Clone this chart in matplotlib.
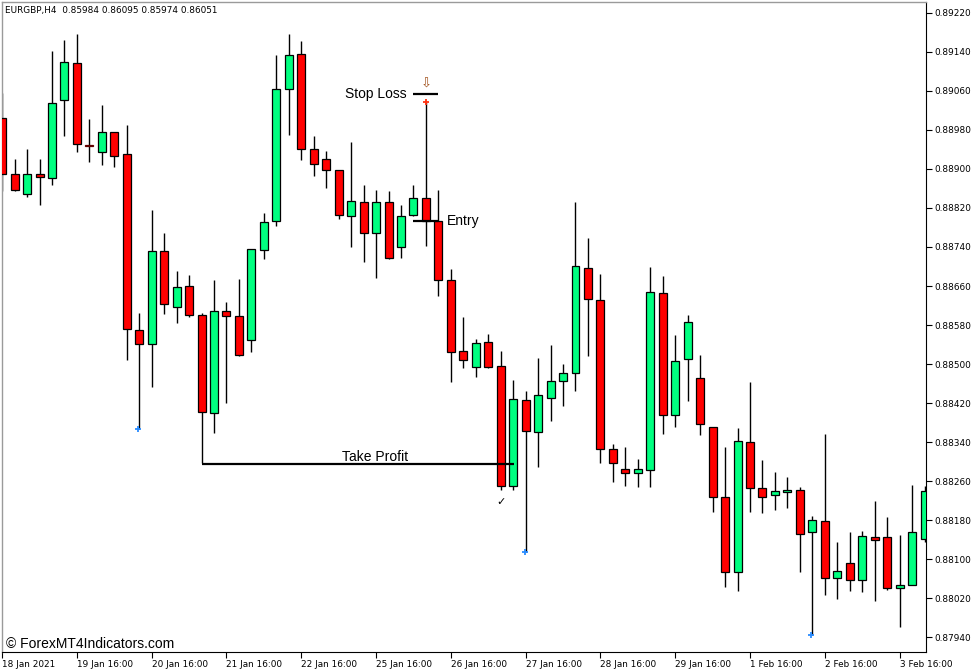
import matplotlib
matplotlib.use("Agg")
import matplotlib.pyplot as plt
import numpy as np

# ---- data (EURGBP H4) ----
opens = [0.89004, 0.88890, 0.88848, 0.88889, 0.88882, 0.89041, 0.89118, 0.88949, 0.88935, 0.88975,
         0.88930, 0.88569, 0.88541, 0.88732, 0.88618, 0.88659, 0.88600, 0.88400, 0.88609, 0.88598,
         0.88549, 0.88734, 0.88793, 0.89063, 0.89135, 0.88940, 0.88920, 0.88897, 0.88804, 0.88832,
         0.88768, 0.88832, 0.88739, 0.88805, 0.88840, 0.88793, 0.88672, 0.88526, 0.88494, 0.88545,
         0.88496, 0.88251, 0.88426, 0.88360, 0.88430, 0.88465, 0.88481, 0.88696, 0.88631, 0.88327,
         0.88286, 0.88277, 0.88282, 0.88645, 0.88395, 0.88510, 0.88472, 0.88372, 0.88227, 0.88073,
         0.88340, 0.88246, 0.88231, 0.88237, 0.88242, 0.88156, 0.88178, 0.88061, 0.88092, 0.88057,
         0.88145, 0.88145, 0.88041, 0.88047, 0.88142]
highs = [0.89055, 0.88920, 0.88940, 0.88920, 0.89142, 0.89164, 0.89176, 0.89002, 0.89031, 0.88975,
         0.88989, 0.88604, 0.88816, 0.88768, 0.88691, 0.88682, 0.88604, 0.88672, 0.88627, 0.88674,
         0.88736, 0.88809, 0.89133, 0.89176, 0.89162, 0.88967, 0.88937, 0.88897, 0.88956, 0.88868,
         0.88857, 0.88855, 0.88825, 0.88868, 0.89038, 0.88857, 0.88694, 0.88597, 0.88551, 0.88562,
         0.88526, 0.88467, 0.88445, 0.88512, 0.88540, 0.88500, 0.88832, 0.88758, 0.88685, 0.88336,
         0.88330, 0.88305, 0.88698, 0.88681, 0.88560, 0.88601, 0.88519, 0.88372, 0.88330, 0.88369,
         0.88463, 0.88303, 0.88278, 0.88269, 0.88248, 0.88189, 0.88357, 0.88135, 0.88155, 0.88157,
         0.88219, 0.88186, 0.88150, 0.88252, 0.88250]
lows = [0.88855, 0.88855, 0.88843, 0.88827, 0.88868, 0.88968, 0.88934, 0.88915, 0.88907, 0.88904,
        0.88508, 0.88368, 0.88454, 0.88602, 0.88584, 0.88596, 0.88297, 0.88359, 0.88421, 0.88517,
        0.88524, 0.88715, 0.88783, 0.88969, 0.88918, 0.88886, 0.88861, 0.88797, 0.88739, 0.88710,
        0.88676, 0.88716, 0.88718, 0.88803, 0.88741, 0.88639, 0.88464, 0.88493, 0.88473, 0.88491,
        0.88243, 0.88241, 0.88114, 0.88289, 0.88384, 0.88415, 0.88444, 0.88517, 0.88298, 0.88259,
        0.88251, 0.88248, 0.88249, 0.88357, 0.88371, 0.88424, 0.88355, 0.88196, 0.88044, 0.88036,
        0.88196, 0.88194, 0.88202, 0.88206, 0.88073, 0.87945, 0.88026, 0.88018, 0.88034, 0.88033,
        0.88015, 0.88038, 0.87962, 0.88047, 0.88135]
closes = [0.88890, 0.88856, 0.88889, 0.88883, 0.89036, 0.89120, 0.88952, 0.88946, 0.88975, 0.88927,
          0.88572, 0.88541, 0.88732, 0.88623, 0.88657, 0.88601, 0.88402, 0.88609, 0.88599, 0.88518,
          0.88735, 0.88791, 0.89063, 0.89134, 0.88940, 0.88911, 0.88897, 0.88805, 0.88834, 0.88769,
          0.88832, 0.88717, 0.88804, 0.88840, 0.88794, 0.88673, 0.88524, 0.88508, 0.88544, 0.88495,
          0.88251, 0.88428, 0.88362, 0.88437, 0.88465, 0.88481, 0.88700, 0.88633, 0.88327, 0.88297,
          0.88277, 0.88284, 0.88647, 0.88395, 0.88507, 0.88586, 0.88377, 0.88228, 0.88073, 0.88342,
          0.88246, 0.88227, 0.88239, 0.88243, 0.88152, 0.88180, 0.88061, 0.88077, 0.88057, 0.88147,
          0.88139, 0.88041, 0.88048, 0.88156, 0.88239]

y_ticks = [0.87940, 0.88020, 0.88100, 0.88180, 0.88260, 0.88340, 0.88420, 0.88500,
           0.88580, 0.88660, 0.88740, 0.88820, 0.88900, 0.88980, 0.89060, 0.89140, 0.89220]
x_tick_bars = [0, 6, 12, 18, 24, 30, 36, 42, 48, 54, 60, 66, 72]
x_tick_labels = ["18 Jan 2021", "19 Jan 16:00", "20 Jan 16:00", "21 Jan 16:00", "22 Jan 16:00",
                 "25 Jan 16:00", "26 Jan 16:00", "27 Jan 16:00", "28 Jan 16:00", "29 Jan 16:00",
                 "1 Feb 16:00", "2 Feb 16:00", "3 Feb 16:00"]

title_text = "EURGBP,H4  0.85984 0.86095 0.85974 0.86051"
watermark = "\u00a9 ForexMT4Indicators.com"

stop_loss = 0.89053
entry = 0.88793
take_profit = 0.88295
sl_bars = (33, 35)
entry_bars = (33, 35)
tp_bars = (16, 41.1)
signal_bar = 34
blue_marker_bars = [11, 42, 65]
check_bar = 40

# ---- figure ----
W, H = 977, 672
fig = plt.figure(figsize=(W / 100, H / 100), dpi=100)
fig.patch.set_facecolor("white")
ax = fig.add_axes([2 / W, (H - 652) / H, 924 / W, 650 / H])
ax.set_facecolor("white")

n = len(opens)
x = np.arange(n)
o = np.array(opens); c = np.array(closes); hi = np.array(highs); lo = np.array(lows)
up = c > o
green = "#00ff80"
red = "#ff0000"

ax.vlines(x, lo, hi, color="black", linewidth=1.0, zorder=2)
bottoms = np.minimum(o, c)
raw_h = np.abs(c - o)
heights = np.maximum(raw_h, 0.000012)
colors = [green if u else red for u in up]
edges = ["#600000" if h < 0.00004 and not u else "black" for h, u in zip(raw_h, up)]
ax.bar(x, heights, bottom=bottoms, width=0.64, color=colors, edgecolor=edges,
       linewidth=0.9, zorder=3)

ax.set_xlim(-0.01, 74.12)
ax.set_ylim(0.87910, 0.89242)

# spines
for s in ["left", "top"]:
    ax.spines[s].set_color("#9a9a9a")
    ax.spines[s].set_linewidth(1.0)
ax.spines["right"].set_color("black")
ax.spines["bottom"].set_color("black")

ax.yaxis.tick_right()
ax.set_yticks(y_ticks)
ax.set_yticklabels([f"{v:.5f}" for v in y_ticks], fontsize=6.4, family="DejaVu Sans")
ax.tick_params(axis="y", direction="out", length=4, width=0.8, pad=2, colors="black")
ax.set_xticks(x_tick_bars)
ax.set_xticklabels(x_tick_labels, fontsize=6.4, family="DejaVu Sans", ha="left")
ax.tick_params(axis="x", direction="out", length=4, width=0.8, pad=1.5, colors="black")
for lbl in ax.get_xticklabels():
    lbl.set_horizontalalignment("left")

# annotation lines
ax.hlines(stop_loss, sl_bars[0], sl_bars[1], color="black", linewidth=1.6, zorder=4)
ax.hlines(entry, entry_bars[0], entry_bars[1], color="black", linewidth=1.6, zorder=4)
ax.hlines(take_profit, tp_bars[0], tp_bars[1], color="black", linewidth=1.6, zorder=4)

ax.text(32.45, stop_loss, "Stop Loss", fontsize=10, family="Liberation Sans",
        ha="right", va="center", zorder=5)
ax.text(35.7, entry, "Entry", fontsize=10, family="Liberation Sans",
        ha="left", va="center", zorder=5)
ax.text(29.95, take_profit, "Take Profit", fontsize=10, family="Liberation Sans",
        ha="center", va="bottom", zorder=5)

# signal markers
ax.plot([signal_bar], [highs[signal_bar]], marker="+", color="#ff3010", markersize=4,
        markeredgewidth=1.3, zorder=6)
ax.annotate("\u21e9", (signal_bar, highs[signal_bar]), xytext=(0, 12.5),
            textcoords="offset points", ha="center", va="center", fontsize=9.5,
            color="#a0501a", family="DejaVu Sans", zorder=6)
for b in blue_marker_bars:
    ax.plot([b - 0.08], [lows[b]], marker="+", color="#2a8cff", markersize=4,
            markeredgewidth=1.3, zorder=6)
ax.annotate("\u2713", (check_bar, lows[check_bar]), xytext=(0, -9),
            textcoords="offset points", ha="center", va="center", fontsize=8,
            color="black", family="DejaVu Sans", zorder=6)

# texts in figure pixel space
fig.text(5 / W, 1 - 10 / H, title_text, fontsize=6.4, family="DejaVu Sans",
         ha="left", va="center")
fig.text(6 / W, 1 - 644 / H, watermark, fontsize=10, family="Liberation Sans",
         ha="left", va="center")

fig.savefig("out.png", dpi=100, facecolor="white")
